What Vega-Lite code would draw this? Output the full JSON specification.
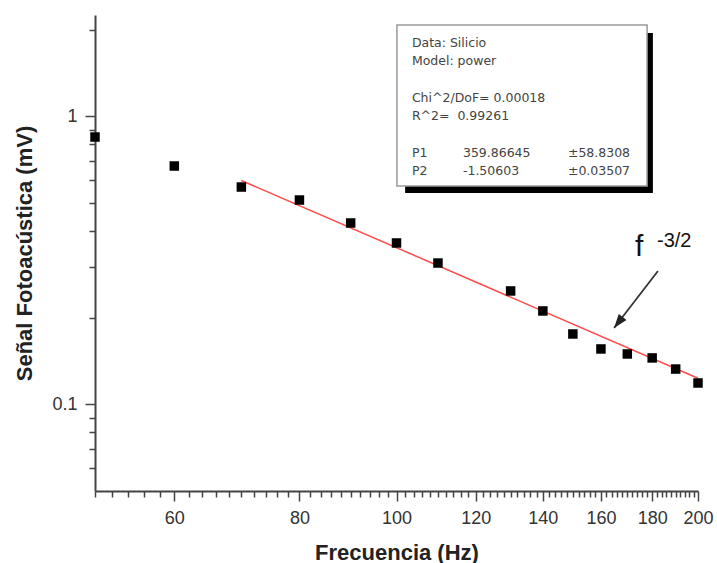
{
  "$schema": "https://vega.github.io/schema/vega-lite/v6.json",
  "width": 603,
  "height": 476,
  "autosize": "none",
  "padding": {"left": 95, "top": 15, "right": 19, "bottom": 72},
  "background": "white",
  "config": {
    "view": {"stroke": null},
    "font": "Liberation Sans",
    "axis": {
      "grid": false,
      "domainColor": "#444444",
      "domainWidth": 2,
      "tickColor": "#444444",
      "tickWidth": 1.5,
      "labelColor": "#333333",
      "labelFont": "Liberation Sans",
      "labelFontSize": 18,
      "labelPadding": 8,
      "titleFont": "Liberation Sans",
      "titleFontSize": 22,
      "titleFontWeight": "bold",
      "titleColor": "#222222",
      "titlePadding": 15
    }
  },
  "datasets": {
    "silicio": [
      {"f": 50, "senal": 0.848},
      {"f": 60, "senal": 0.6725},
      {"f": 70, "senal": 0.5685},
      {"f": 80, "senal": 0.5124},
      {"f": 90, "senal": 0.4264},
      {"f": 100, "senal": 0.3634},
      {"f": 110, "senal": 0.3096},
      {"f": 130, "senal": 0.2476},
      {"f": 140, "senal": 0.211},
      {"f": 150, "senal": 0.1755},
      {"f": 160, "senal": 0.1557},
      {"f": 170, "senal": 0.1496},
      {"f": 180, "senal": 0.1449},
      {"f": 190, "senal": 0.1326},
      {"f": 200, "senal": 0.1186}
    ],
    "ajuste": [
      {"f": 70, "senal": 0.59891},
      {"f": 200, "senal": 0.12323}
    ],
    "nota": [{}]
  },
  "layer": [
    {
      "description": "shadow of the fit summary box",
      "data": {"name": "nota"},
      "mark": {"type": "rect", "color": "#000000"},
      "encoding": {
        "x": {"datum": 102.0, "type": "quantitative"},
        "x2": {"datum": 180.3},
        "y": {"datum": 1.9484, "type": "quantitative"},
        "y2": {"datum": 0.5418}
      }
    },
    {
      "description": "fit summary box",
      "data": {"name": "nota"},
      "mark": {"type": "rect", "fill": "#ffffff", "stroke": "#9a9a9a", "strokeWidth": 1.5},
      "encoding": {
        "x": {"datum": 100.1, "type": "quantitative"},
        "x2": {"datum": 177.9},
        "y": {"datum": 2.0772, "type": "quantitative"},
        "y2": {"datum": 0.573}
      }
    },
    {
      "data": {"name": "nota"},
      "mark": {"type": "text", "align": "left", "baseline": "alphabetic", "font": "DejaVu Sans", "fontSize": 12.5, "lineHeight": 18.2, "color": "#444444"},
      "encoding": {
        "x": {"datum": 103.6, "type": "quantitative"},
        "y": {"datum": 1.742, "type": "quantitative"},
        "text": {"value": ["Data: Silicio", "Model: power"]}
      }
    },
    {
      "data": {"name": "nota"},
      "mark": {"type": "text", "align": "left", "baseline": "alphabetic", "font": "DejaVu Sans", "fontSize": 12.5, "lineHeight": 18.2, "color": "#444444"},
      "encoding": {
        "x": {"datum": 103.6, "type": "quantitative"},
        "y": {"datum": 1.1256, "type": "quantitative"},
        "text": {"value": ["Chi^2/DoF= 0.00018", "R^2=\u00a0 0.99261"]}
      }
    },
    {
      "data": {"name": "nota"},
      "mark": {"type": "text", "align": "left", "baseline": "alphabetic", "font": "DejaVu Sans", "fontSize": 12.5, "lineHeight": 18.2, "color": "#444444"},
      "encoding": {
        "x": {"datum": 103.6, "type": "quantitative"},
        "y": {"datum": 0.7226, "type": "quantitative"},
        "text": {"value": ["P1", "P2"]}
      }
    },
    {
      "data": {"name": "nota"},
      "mark": {"type": "text", "align": "left", "baseline": "alphabetic", "font": "DejaVu Sans", "fontSize": 12.5, "lineHeight": 18.2, "color": "#444444"},
      "encoding": {
        "x": {"datum": 116.5, "type": "quantitative"},
        "y": {"datum": 0.7226, "type": "quantitative"},
        "text": {"value": ["359.86645", "-1.50603"]}
      }
    },
    {
      "data": {"name": "nota"},
      "mark": {"type": "text", "align": "left", "baseline": "alphabetic", "font": "DejaVu Sans", "fontSize": 12.5, "lineHeight": 18.2, "color": "#444444"},
      "encoding": {
        "x": {"datum": 148.3, "type": "quantitative"},
        "y": {"datum": 0.7226, "type": "quantitative"},
        "text": {"value": ["±58.8308", "±0.03507"]}
      }
    },
    {
      "description": "power-law fit, straight on log-log axes",
      "data": {"name": "ajuste"},
      "mark": {"type": "line", "color": "#ff4a4a", "strokeWidth": 1.5},
      "encoding": {
        "x": {"field": "f", "type": "quantitative"},
        "y": {"field": "senal", "type": "quantitative"}
      }
    },
    {
      "data": {"name": "silicio"},
      "mark": {"type": "point", "shape": "square", "filled": true, "size": 90, "color": "#000000", "opacity": 1},
      "encoding": {
        "x": {
          "field": "f",
          "type": "quantitative",
          "scale": {"type": "log", "domain": [50, 200], "nice": false},
          "axis": {
            "title": "Frecuencia (Hz)",
            "values": [50, 52, 54, 56, 58, 60, 62, 64, 66, 68, 70, 72, 74, 76, 78, 80, 82, 84, 86, 88, 90, 92, 94, 96, 98, 100, 102, 104, 106, 108, 110, 112, 114, 116, 118, 120, 122, 124, 126, 128, 130, 132, 134, 136, 138, 140, 142, 144, 146, 148, 150, 152, 154, 156, 158, 160, 162, 164, 166, 168, 170, 172, 174, 176, 178, 180, 182, 184, 186, 188, 190, 192, 194, 196, 198, 200],
            "labelExpr": "datum.value % 20 === 0 && datum.value >= 60 ? '' + datum.value : ''",
            "tickSize": {"condition": {"test": "datum.value % 20 === 0", "value": 10}, "value": 6},
            "labelFlush": false,
            "labelOverlap": false
          }
        },
        "y": {
          "field": "senal",
          "type": "quantitative",
          "scale": {"type": "log", "domain": [0.05, 2.25], "nice": false},
          "axis": {
            "title": "Señal Fotoacústica (mV)",
            "values": [0.06, 0.07, 0.08, 0.09, 0.1, 0.2, 0.3, 0.4, 0.5, 0.6, 0.7, 0.8, 0.9, 1, 2],
            "labelExpr": "datum.value === 1 ? '1' : (datum.value === 0.1 ? '0.1' : '')",
            "tickSize": {"condition": {"test": "datum.value === 1 || datum.value === 0.1", "value": 10}, "value": 6},
            "labelOverlap": false
          }
        }
      }
    },
    {
      "description": "arrow shaft",
      "data": {"name": "nota"},
      "mark": {"type": "rule", "color": "#333333", "strokeWidth": 1.8},
      "encoding": {
        "x": {"datum": 182.4, "type": "quantitative"},
        "x2": {"datum": 164.9},
        "y": {"datum": 0.2904, "type": "quantitative"},
        "y2": {"datum": 0.18412}
      }
    },
    {
      "description": "arrow head, tip at the path origin",
      "data": {"name": "nota"},
      "mark": {"type": "point", "shape": "M0,0L-0.7,2L0.7,2Z", "size": 196, "filled": true, "color": "#222222", "opacity": 1, "angle": 217.7},
      "encoding": {
        "x": {"datum": 164.9, "type": "quantitative"},
        "y": {"datum": 0.18412, "type": "quantitative"}
      }
    },
    {
      "data": {"name": "nota"},
      "mark": {"type": "text", "align": "left", "baseline": "alphabetic", "font": "Liberation Sans", "fontSize": 30, "color": "#111111"},
      "encoding": {
        "x": {"datum": 173.0, "type": "quantitative"},
        "y": {"datum": 0.3275, "type": "quantitative"},
        "text": {"value": "f"}
      }
    },
    {
      "data": {"name": "nota"},
      "mark": {"type": "text", "align": "left", "baseline": "alphabetic", "font": "Liberation Sans", "fontSize": 20, "color": "#111111"},
      "encoding": {
        "x": {"datum": 182.0, "type": "quantitative"},
        "y": {"datum": 0.3519, "type": "quantitative"},
        "text": {"value": "-3/2"}
      }
    }
  ]
}
